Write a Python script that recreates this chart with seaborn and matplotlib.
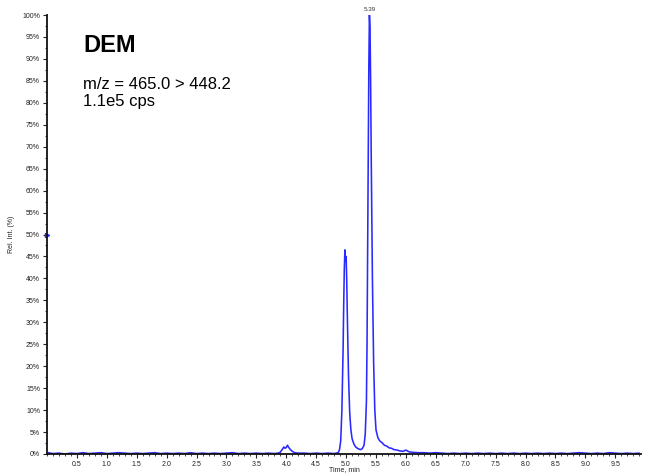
import matplotlib
matplotlib.use("Agg")
import matplotlib.pyplot as plt
import matplotlib.ticker as mticker
import seaborn as sns
import pandas as pd

# ---- data ----
base_time = [0.02, 0.1, 0.2, 0.3, 0.4, 0.5, 0.6, 0.7, 0.8, 0.9, 1.0, 1.1, 1.2, 1.3, 1.4,
             1.5, 1.6, 1.7, 1.8, 1.9, 2.0, 2.1, 2.2, 2.3, 2.4, 2.5, 2.6, 2.7, 2.8, 2.9,
             3.0, 3.1, 3.2, 3.3, 3.4, 3.5, 3.6, 3.7, 3.8, 3.86]
base_int = [0.3, 0.1, 0.2, 0.0, 0.2, 0.1, 0.3, 0.1, 0.2, 0.3, 0.1, 0.2, 0.3, 0.2, 0.1,
            0.2, 0.1, 0.2, 0.3, 0.1, 0.2, 0.1, 0.2, 0.1, 0.3, 0.1, 0.2, 0.1, 0.2, 0.1,
            0.2, 0.3, 0.1, 0.2, 0.1, 0.2, 0.1, 0.2, 0.1, 0.2]

small_time = [3.90, 3.93, 3.96, 3.98, 4.00, 4.02, 4.04, 4.07, 4.10, 4.14, 4.20]
small_int = [0.4, 1.0, 1.6, 1.3, 1.5, 2.0, 1.5, 1.0, 0.6, 0.3, 0.2]

gap_time = [4.3, 4.4, 4.5, 4.6, 4.7, 4.8, 4.84]
gap_int = [0.2, 0.1, 0.2, 0.1, 0.2, 0.1, 0.2]

peak_time = [4.87, 4.89, 4.91, 4.93, 4.95, 4.96, 4.97, 4.98, 4.99, 5.00, 5.01, 5.02,
             5.04, 5.06, 5.08, 5.10, 5.13, 5.16, 5.20, 5.24, 5.27, 5.30, 5.32, 5.34,
             5.35, 5.36, 5.37, 5.38, 5.39, 5.40, 5.41, 5.42, 5.44, 5.46, 5.48, 5.50,
             5.53, 5.56, 5.60, 5.64, 5.68, 5.72, 5.76, 5.80, 5.85, 5.90, 5.95, 6.00,
             6.05, 6.10, 6.20]
peak_int = [0.3, 1.0, 3.0, 10.0, 24.0, 34.0, 42.0, 46.5, 44.0, 45.0, 40.0, 32.0,
            18.0, 9.5, 5.5, 3.5, 2.3, 1.6, 1.2, 1.0, 1.2, 2.0, 4.5, 12.0,
            25.0, 45.0, 68.0, 88.0, 100.0, 97.0, 85.0, 68.0, 40.0, 21.0, 10.0, 5.5,
            3.8, 3.0, 2.6, 2.0, 1.8, 1.4, 1.3, 1.0, 0.9, 0.7, 0.6, 0.9,
            0.5, 0.4, 0.3]

tail_time = [6.3, 6.4, 6.5, 6.6, 6.7, 6.8, 6.9, 7.0, 7.1, 7.2, 7.3, 7.4, 7.5, 7.6,
             7.7, 7.8, 7.9, 8.0, 8.1, 8.2, 8.3, 8.4, 8.5, 8.6, 8.7, 8.8, 8.9, 9.0,
             9.1, 9.2, 9.3, 9.4, 9.5, 9.6, 9.7, 9.8, 9.9]
tail_int = [0.3, 0.2, 0.3, 0.2, 0.1, 0.2, 0.1, 0.2, 0.1, 0.2, 0.1, 0.2, 0.1, 0.2,
            0.1, 0.2, 0.1, 0.2, 0.1, 0.2, 0.1, 0.2, 0.1, 0.2, 0.1, 0.2, 0.3, 0.2,
            0.1, 0.2, 0.1, 0.3, 0.2, 0.1, 0.2, 0.1, 0.2]

apex_time = 5.39
apex_label = "5.39"
marker_level = 50

x_ticks = [0.5, 1.0, 1.5, 2.0, 2.5, 3.0, 3.5, 4.0, 4.5, 5.0, 5.5, 6.0, 6.5, 7.0,
           7.5, 8.0, 8.5, 9.0, 9.5]
y_ticks = list(range(0, 101, 5))

time = base_time + small_time + gap_time + peak_time + tail_time
intensity = base_int + small_int + gap_int + peak_int + tail_int
df = pd.DataFrame({"time": time, "intensity": intensity})

# ---- plot ----
sns.set_style("ticks")
plt.rcParams['font.family'] = ['Liberation Sans', 'DejaVu Sans']

fig = plt.figure(figsize=(6.49, 4.75), dpi=100)
ax = fig.add_axes([47 / 649, 21 / 475, 594 / 649, 439 / 475])

sns.lineplot(data=df, x="time", y="intensity", ax=ax, color="#2a2aff",
             linewidth=1.15, estimator=None, sort=True)

ax.set_xlim(0, 9.93)
ax.set_ylim(0, 100)
ax.set_xticks(x_ticks)
ax.set_xticklabels([f"{t:.1f}" for t in x_ticks])
ax.set_yticks(y_ticks)
ax.set_yticklabels([f"{v}%" for v in y_ticks])
ax.xaxis.set_minor_locator(mticker.MultipleLocator(0.1))
ax.yaxis.set_minor_locator(mticker.MultipleLocator(2.5))
ax.tick_params(axis="both", which="major", labelsize=5, length=3, width=0.8,
               colors="#222222", pad=2)
ax.tick_params(axis="both", which="minor", length=1.5, width=0.6)

for s in ["top", "right"]:
    ax.spines[s].set_visible(False)
for s in ["left", "bottom"]:
    ax.spines[s].set_linewidth(1.3)
    ax.spines[s].set_color("#111111")

ax.set_xlabel("Time, min", fontsize=5, color="#222222")
ax.xaxis.set_label_coords(0.5, -(16 / 439))
ax.xaxis.label.set_va("center")
ax.set_ylabel("Rel. Int. (%)", fontsize=5, color="#222222")
ax.yaxis.set_label_coords(-(35 / 594), 0.5)
ax.yaxis.label.set_va("center")

ax.plot([0], [marker_level], marker=">", color="#2a2aff", markersize=3,
        clip_on=False)
ax.annotate(apex_label, xy=(apex_time, 100), xytext=(0, 2),
            textcoords="offset points", ha="center", va="bottom", fontsize=4.5,
            color="#333333", annotation_clip=False)

fig.text(83 / 649, 1 - 52 / 475, "DEM", fontsize=17, fontweight="bold",
         ha="left", va="baseline", color="black")
fig.text(83 / 649, 1 - 89 / 475, "m/z = 465.0 > 448.2", fontsize=12,
         ha="left", va="baseline", color="black")
fig.text(83 / 649, 1 - 106 / 475, "1.1e5 cps", fontsize=12,
         ha="left", va="baseline", color="black")

fig.savefig("out.png", dpi=100)
